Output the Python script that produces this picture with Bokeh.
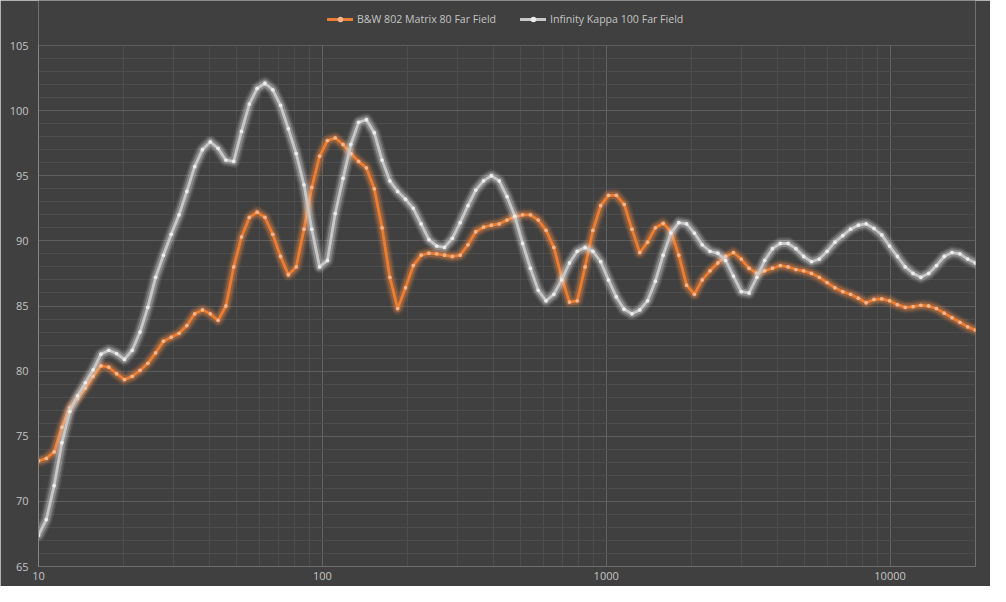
import numpy as np
from bokeh.plotting import figure
from bokeh.models import (FixedTicker, PrintfTickFormatter, Legend, LegendItem,
                          Range1d, ColumnDataSource)
from bokeh.embed import file_html
from bokeh.resources import INLINE

# ---------------- data ----------------
# measurement grid: log-spaced frequencies from 10 Hz to 20 kHz
FREQ_HZ = np.geomspace(10, 20000, 121)

BW_802_DB = [
    73.1, 73.3, 73.8, 75.7, 77.2, 77.9, 78.7, 79.6, 80.4, 80.3,
    79.8, 79.35, 79.6, 80.05, 80.6, 81.4, 82.3, 82.6, 82.9, 83.5,
    84.4, 84.7, 84.4, 83.9, 85.0, 88.0, 90.3, 91.8, 92.2, 91.8,
    90.5, 88.8, 87.4, 88.0, 90.9, 94.1, 96.5, 97.7, 97.9, 97.4,
    96.7, 96.1, 95.6, 94.0, 91.0, 87.2, 84.8, 86.4, 88.1, 88.9,
    89.05, 89.0, 88.9, 88.8, 88.9, 89.7, 90.7, 91.05, 91.2, 91.3,
    91.6, 91.85, 92.0, 92.0, 91.6, 90.8, 89.5, 87.2, 85.3, 85.4,
    88.0, 90.8, 92.7, 93.5, 93.5, 92.8, 90.9, 89.1, 89.9, 91.0,
    91.35, 90.7, 88.9, 86.6, 85.9, 87.0, 87.7, 88.3, 88.8, 89.1,
    88.6, 87.9, 87.5, 87.7, 87.9, 88.1, 88.0, 87.8, 87.7, 87.5,
    87.2, 86.8, 86.4, 86.1, 85.9, 85.6, 85.25, 85.5, 85.55, 85.4,
    85.1, 84.9, 84.95, 85.05, 85.0, 84.8, 84.45, 84.1, 83.75, 83.4,
    83.15,
]

KAPPA_100_DB = [
    67.4, 68.6, 71.2, 74.5, 76.9, 78.1, 79.1, 80.1, 81.3, 81.6,
    81.35, 80.9, 81.6, 83.0, 84.9, 87.2, 88.9, 90.5, 92.0, 93.8,
    95.7, 97.0, 97.6, 97.1, 96.2, 96.1, 98.4, 100.5, 101.7, 102.1,
    101.6, 100.4, 98.6, 96.7, 94.3, 90.9, 88.0, 88.5, 92.1, 94.8,
    97.4, 99.1, 99.3, 98.3, 96.2, 94.6, 93.8, 93.2, 92.5, 91.3,
    90.1, 89.6, 89.5, 90.2, 91.4, 92.7, 93.9, 94.6, 95.0, 94.6,
    93.4, 91.9, 89.8, 87.9, 86.2, 85.4, 85.9, 87.0, 88.3, 89.2,
    89.5, 89.2, 88.4, 87.0, 85.7, 84.75, 84.4, 84.7, 85.4, 86.9,
    88.9, 90.6, 91.4, 91.3, 90.6, 89.7, 89.2, 89.05, 88.5, 87.3,
    86.1, 86.0, 87.2, 88.5, 89.4, 89.8, 89.8, 89.4, 88.8, 88.4,
    88.6, 89.2, 89.9, 90.4, 90.9, 91.2, 91.3, 90.95, 90.45, 89.6,
    88.8, 88.0, 87.5, 87.2, 87.5, 88.1, 88.8, 89.1, 89.0, 88.6,
    88.3,
]

SERIES_NAMES = ["B&W 802 Matrix 80 Far Field", "Infinity Kappa 100 Far Field"]
X_TICKS = [10, 100, 1000, 10000]
X_MINOR = [m * d for d in (10, 100, 1000, 10000) for m in range(2, 10) if m * d <= 20000]
Y_TICKS = [65, 70, 75, 80, 85, 90, 95, 100, 105]
Y_MINOR = [v for v in range(65, 106) if v % 5 != 0]
Y_MIN, Y_MAX = 65, 105

# ---------------- figure ----------------
BG = "#404040"
TXT = "#c4c4c4"
FONT = "Open Sans"

# The frame reaches to the top of the figure so that the legend (which is
# clipped to the frame) can sit above the 105 line; 105 lands 45px from the top.
FRAME_H = 566
Y_TOP = Y_MIN + FRAME_H * (Y_MAX - Y_MIN) / 521.0

p = figure(x_axis_type="log", width=990, height=586,
           min_border_left=38, min_border_right=15, min_border_top=0,
           min_border_bottom=20,
           x_range=Range1d(10, 20000), y_range=Range1d(Y_MIN, Y_TOP),
           output_backend="svg", toolbar_location=None)
p.background_fill_color = BG
p.border_fill_color = BG
p.outline_line_color = None
p.styles = {"outline": "1px solid #d9d9d9", "outline-offset": "-1px"}

p.xaxis.ticker = FixedTicker(ticks=X_TICKS, minor_ticks=X_MINOR)
p.yaxis.ticker = FixedTicker(ticks=Y_TICKS, minor_ticks=Y_MINOR)
p.xaxis.formatter = PrintfTickFormatter(format="%d")
p.yaxis.formatter = PrintfTickFormatter(format="%d")
p.yaxis.bounds = (Y_MIN, Y_MAX)

for ax in (p.xaxis, p.yaxis):
    ax.major_tick_line_color = None
    ax.minor_tick_line_color = None
    ax.major_tick_out = 0
    ax.major_tick_in = 0
    ax.minor_tick_out = 0
    ax.minor_tick_in = 0
    ax.major_label_text_color = TXT
    ax.major_label_text_font = FONT
    ax.major_label_text_font_size = "11px"
p.xaxis.axis_line_color = "#6e6e6e"
p.yaxis.axis_line_color = "#858585"
p.xaxis.major_label_standoff = 5
p.yaxis.major_label_standoff = 10

p.ygrid.grid_line_color = "#5e5e5e"
p.ygrid.minor_grid_line_color = "#4d4d4d"

try:
    p.xgrid.cross_bounds = (Y_MIN, Y_MAX)
    p.xgrid.grid_line_color = "#636363"
    p.xgrid.minor_grid_line_color = "#4d4d4d"
except Exception:
    p.xgrid.grid_line_color = None
    p.segment(x0=X_MINOR, y0=[Y_MIN] * len(X_MINOR), x1=X_MINOR,
              y1=[Y_MAX] * len(X_MINOR), line_color="#4d4d4d", line_width=1)
    p.segment(x0=X_TICKS[1:], y0=[Y_MIN] * 3, x1=X_TICKS[1:],
              y1=[Y_MAX] * 3, line_color="#636363", line_width=1)

src = ColumnDataSource(dict(f=FREQ_HZ, bw=BW_802_DB, ik=KAPPA_100_DB))

def series(col, core, glow, dot):
    for w, a in ((13, 0.09), (10, 0.15), (7, 0.28)):
        p.line("f", col, source=src, line_color=glow, line_width=w,
               line_alpha=a, line_join="round", line_cap="round")
    ln = p.line("f", col, source=src, line_color=core, line_width=2.8,
                line_join="round", line_cap="round")
    sc = p.scatter("f", col, source=src, marker="circle", size=3.8,
                   fill_color=dot, line_color=None)
    return ln, sc

# orange (series 1) first, grey (series 2) drawn on top as in the reference
bw_line, bw_dots = series("bw", "#ED7D31", "#F08A40", "#F7B48A")
ik_line, ik_dots = series("ik", "#c8c8c8", "#e6e6e6", "#ececec")

legend = Legend(items=[
    LegendItem(label=SERIES_NAMES[0], renderers=[bw_line, bw_dots]),
    LegendItem(label=SERIES_NAMES[1], renderers=[ik_line, ik_dots]),
], location=(289, 540), orientation="horizontal")
legend.background_fill_alpha = 0
legend.border_line_alpha = 0
legend.padding = 0
legend.margin = 0
legend.spacing = 24
legend.glyph_width = 26
legend.glyph_height = 14
legend.label_height = 14
legend.label_standoff = 4
legend.label_text_color = TXT
legend.label_text_font = FONT
legend.label_text_font_size = "10.6px"
p.add_layout(legend)

open("out.html", "w").write(file_html(p, INLINE))
